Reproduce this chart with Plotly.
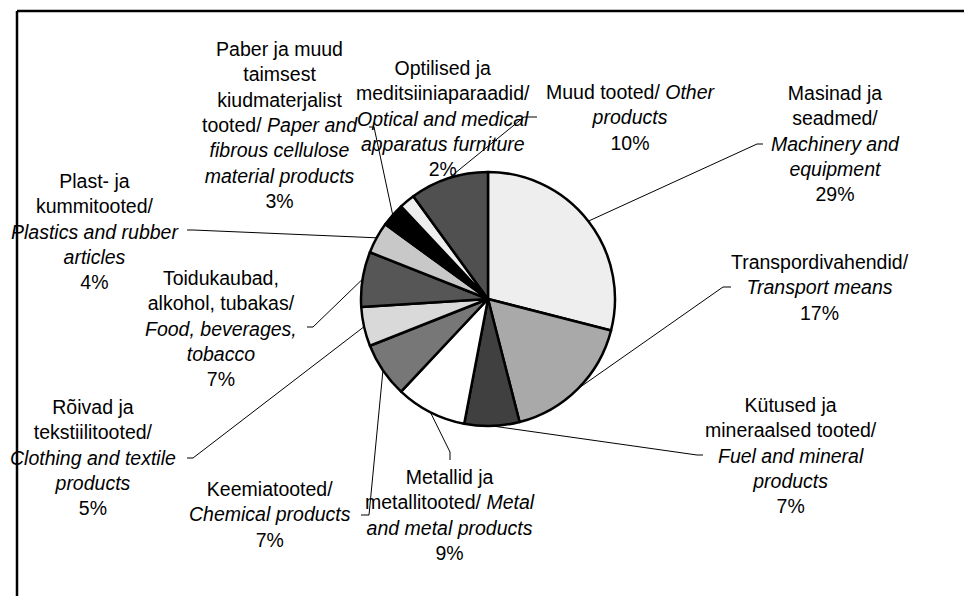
import math
import plotly.graph_objects as go

# ---- data ----
categories_et = ["Masinad ja seadmed", "Transpordivahendid", "Kütused ja mineraalsed tooted",
                 "Metallid ja metallitooted", "Keemiatooted", "Rõivad ja tekstiilitooted",
                 "Toidukaubad, alkohol, tubakas", "Plast- ja kummitooted",
                 "Paber ja muud taimsest kiudmaterjalist tooted",
                 "Optilised ja meditsiiniaparaadid", "Muud tooted"]
categories_en = ["Machinery and equipment", "Transport means", "Fuel and mineral products",
                 "Metal and metal products", "Chemical products", "Clothing and textile products",
                 "Food, beverages, tobacco", "Plastics and rubber articles",
                 "Paper and fibrous cellulose material products",
                 "Optical and medical apparatus furniture", "Other products"]
values = [29, 17, 7, 9, 7, 5, 7, 4, 3, 2, 10]

# label texts (line breaks as in the reference)
label_texts = [
    "Masinad ja<br>seadmed/<br><i>Machinery and</i><br><i>equipment</i><br>{}%",
    "Transpordivahendid/<br><i>Transport means</i><br>{}%",
    "Kütused ja<br>mineraalsed tooted/<br><i>Fuel and mineral</i><br><i>products</i><br>{}%",
    "Metallid ja<br>metallitooted/ <i>Metal</i><br><i>and metal products</i><br>{}%",
    "Keemiatooted/<br><i>Chemical products</i><br>{}%",
    "Rõivad ja<br>tekstiilitooted/<br><i>Clothing and textile</i><br><i>products</i><br>{}%",
    "Toidukaubad,<br>alkohol, tubakas/<br><i>Food, beverages,</i><br><i>tobacco</i><br>{}%",
    "Plast- ja<br>kummitooted/<br><i>Plastics and rubber</i><br><i>articles</i><br>{}%",
    "Paber ja muud<br>taimsest<br>kiudmaterjalist<br>tooted/ <i>Paper and</i><br><i>fibrous cellulose</i><br><i>material products</i><br>{}%",
    "Optilised ja<br>meditsiiniaparaadid/<br><i>Optical and medical</i><br><i>apparatus furniture</i><br>{}%",
    "Muud tooted/ <i>Other</i><br><i>products</i><br>{}%",
]

# ---- style / layout ----
colors = ["#eeeeee", "#a9a9a9", "#404040", "#ffffff", "#777777", "#d9d9d9",
          "#565656", "#c8c8c8", "#000000", "#eeeeee", "#505050"]

W, H = 964, 596
CX, CY, R = 488, 299, 127  # pie centre / radius in pixels

# label block centres (pixels)
label_pos = [(835, 143.5), (820, 287.5), (791, 455.5), (450, 514.5), (270, 514.5),
             (93, 458), (221, 328), (95, 231), (280, 125.5), (443, 118.5), (631, 117.5)]
# leader line end point and tick end (pixels); None = no leader line
leader_end = [((757, 144), (763, 144)), ((723, 287), (731, 287)), ((697, 455), (703, 455)),
              ((450, 452), (450, 460)), ((369, 515), (361, 515)), ((193, 458), (187, 458)),
              ((313, 327), (307, 327)), ((193, 230), (187, 230)), ((374, 127), (369, 127)),
              None, ((524, 117), (537, 117))]


def px(x):
    return x / W


def py(y):
    return 1 - y / H


fig = go.Figure(go.Pie(
    labels=[f"{a}/ {b}" for a, b in zip(categories_et, categories_en)],
    values=values,
    sort=False,
    direction="clockwise",
    rotation=0,
    textinfo="none",
    hoverinfo="label+percent",
    marker=dict(colors=colors, line=dict(color="black", width=2.5)),
    domain=dict(x=[px(CX - R), px(CX + R)], y=[py(CY + R), py(CY - R)]),
    showlegend=False,
))

shapes = []
annotations = []
total = sum(values)
cum = 0
for i, v in enumerate(values):
    mid = (cum + v / 2) / total * 2 * math.pi
    cum += v
    sx = CX + R * math.sin(mid)
    sy = CY - R * math.cos(mid)
    if leader_end[i] is not None:
        (ex, ey), (tx, ty) = leader_end[i]
        shapes.append(dict(type="line", xref="paper", yref="paper",
                           x0=px(sx), y0=py(sy), x1=px(ex), y1=py(ey),
                           line=dict(color="black", width=1)))
        shapes.append(dict(type="line", xref="paper", yref="paper",
                           x0=px(ex), y0=py(ey), x1=px(tx), y1=py(ty),
                           line=dict(color="black", width=1)))
    lx, ly = label_pos[i]
    pct = round(v / total * 100)
    annotations.append(dict(
        x=px(lx), y=py(ly), xref="paper", yref="paper",
        xanchor="center", yanchor="middle", align="center",
        text=label_texts[i].format(pct), showarrow=False,
        font=dict(family="Liberation Sans, Arial, sans-serif", size=19.5, color="black"),
    ))

# outer frame (left and top edges visible)
shapes.append(dict(type="line", xref="paper", yref="paper",
                   x0=px(17), y0=py(11), x1=px(17), y1=0, line=dict(color="black", width=2.5)))
shapes.append(dict(type="line", xref="paper", yref="paper",
                   x0=px(17), y0=py(11), x1=1, y1=py(11), line=dict(color="black", width=2.5)))

fig.update_layout(
    width=W, height=H,
    margin=dict(l=0, r=0, t=0, b=0),
    paper_bgcolor="white", plot_bgcolor="white",
    shapes=shapes, annotations=annotations,
)

fig.write_html("out.html",
               config={"displayModeBar": False},
               post_script="document.body.style.margin='0';document.body.style.overflow='hidden';")
